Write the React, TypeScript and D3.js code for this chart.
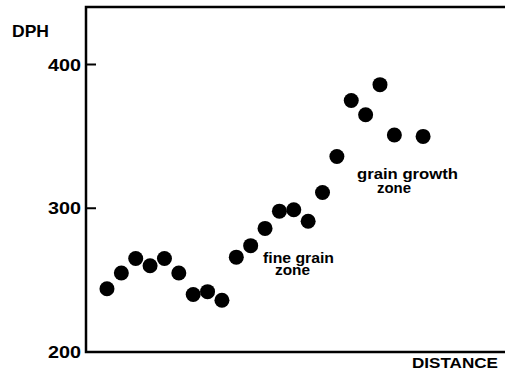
import React, { useEffect } from 'react'
import * as d3 from 'd3'

// distance steps along the specimen (one step skipped before the last point)
const distance = [1, 2, 3, 4, 5, 6, 7, 8, 9, 10, 11, 12, 13, 14, 15, 16, 17, 18, 19, 20, 21, 23]
const dph = [244, 255, 265, 260, 265, 255, 240, 242, 236, 266, 274, 286, 298, 299, 291, 311, 336, 375, 365, 386, 351, 350]
const yTicks = [200, 300, 400]

const width = 505
const height = 374
const left = 86
const top = 7
const bottom = 352

const font = '"Liberation Sans", Arial, sans-serif'

const App = () => {
  useEffect(() => {
    document.body.style.margin = '0'
  }, [])

  const x = d3.scaleLinear().domain([-0.46, 28.7]).range([left, width])
  const y = d3.scaleLinear().domain([200, 440]).range([bottom, top])

  return (
    <svg width={width} height={height} style={{ display: 'block', background: '#fff' }}>
      {/* frame: left, top and bottom, open to the right */}
      <path
        d={`M${width + 2},${top}H${left}V${bottom}H${width + 2}`}
        fill="none"
        stroke="#000"
        strokeWidth={2.5}
      />
      {yTicks.map((t) => (
        <g key={t}>
          {t !== 200 && (
            <line x1={left} x2={left + 10} y1={y(t)} y2={y(t)} stroke="#000" strokeWidth={2} />
          )}
          <text
            x={81}
            y={y(t)}
            dy="0.36em"
            textAnchor="end"
            fontFamily={font}
            fontWeight="bold"
            fontSize={17}
            textLength={33}
            lengthAdjust="spacingAndGlyphs"
          >
            {t}
          </text>
        </g>
      ))}
      <text x={12} y={37} fontFamily={font} fontWeight="bold" fontSize={17} textLength={37} lengthAdjust="spacingAndGlyphs">
        DPH
      </text>
      <text x={412} y={368} fontFamily={font} fontWeight="bold" fontSize={15} textLength={86} lengthAdjust="spacingAndGlyphs">
        DISTANCE
      </text>

      {distance.map((d, i) => (
        <circle key={i} cx={x(d)} cy={y(dph[i])} r={7.5} fill="#000" />
      ))}

      <g fontFamily={font} fontWeight="bold" fontSize={15}>
        <text x={263} y={263} textLength={71} lengthAdjust="spacingAndGlyphs">fine grain</text>
        <text x={275} y={275} textLength={35} lengthAdjust="spacingAndGlyphs">zone</text>
        <text x={357} y={179} textLength={101} lengthAdjust="spacingAndGlyphs">grain  growth</text>
        <text x={377} y={193} textLength={34} lengthAdjust="spacingAndGlyphs">zone</text>
      </g>
    </svg>
  )
}

export default App
